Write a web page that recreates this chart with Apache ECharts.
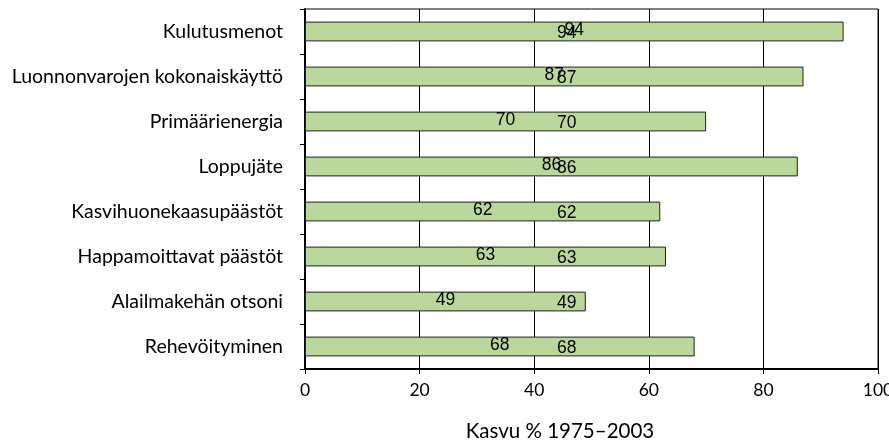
<!DOCTYPE html>
<html>
<head>
<meta charset="utf-8">
<script src="https://cdn.jsdelivr.net/npm/echarts@6/dist/echarts.min.js"></script>
<style>
  html, body { margin: 0; padding: 0; background: #fff; }
  #chart { width: 889px; height: 441px; }
</style>
</head>
<body>
<div id="chart"></div>
<script>
// luokat ylhäältä alas
const categories = [
  'Kulutusmenot',
  'Luonnonvarojen kokonaiskäyttö',
  'Primäärienergia',
  'Loppujäte',
  'Kasvihuonekaasupäästöt',
  'Happamoittavat päästöt',
  'Alailmakehän otsoni',
  'Rehevöityminen'
];
const growth = [94, 87, 70, 86, 62, 63, 49, 68];
const xTicks = [0, 20, 40, 60, 80, 100];
const axisTitle = 'Kasvu % 1975–2003';

const labelFont = '"Liberation Sans", Arial, sans-serif';
const textFont = 'Lato, "Noto Sans", sans-serif';

const chart = echarts.init(document.getElementById('chart'));
chart.setOption({
  animation: false,
  grid: {
    left: 305,
    right: 11,
    top: 9,
    bottom: 72,
    outerBoundsMode: 'none',
    show: true,
    borderColor: '#000',
    borderWidth: 1
  },
  xAxis: {
    type: 'value',
    min: xTicks[0],
    max: xTicks[xTicks.length - 1],
    interval: xTicks[1] - xTicks[0],
    axisLine: { show: true, lineStyle: { color: '#000', width: 2 } },
    axisTick: { show: true, length: 5, lineStyle: { color: '#000', width: 1 } },
    axisLabel: { color: '#000', fontSize: 17.5, fontFamily: textFont, margin: 12 },
    splitLine: { show: true, lineStyle: { color: '#000', width: 1 } },
    name: axisTitle,
    nameLocation: 'middle',
    nameGap: 52,
    nameTextStyle: { color: '#000', fontSize: 20.5, fontFamily: textFont, padding: [0, 63, 0, 0] }
  },
  yAxis: {
    type: 'category',
    data: categories,
    inverse: true,
    axisLine: { show: true, lineStyle: { color: '#000', width: 2 } },
    axisTick: { show: true, length: 5, lineStyle: { color: '#000' } },
    axisLabel: { color: '#000', fontSize: 19.5, fontFamily: textFont, margin: 22 },
    splitLine: { show: false }
  },
  series: [
    {
      type: 'bar',
      data: growth,
      barCategoryGap: '56%',
      itemStyle: { color: '#bad79c', borderColor: '#222', borderWidth: 1 },
      label: {
        show: true,
        position: 'inside',
        offset: [0, -1.5],
        color: '#000',
        fontSize: 17.5,
        fontFamily: labelFont
      },
      z: 2
    },
    {
      // toinen arvojen rivi, samassa kohdassa jokaisella palkilla
      type: 'bar',
      data: growth,
      barGap: '-100%',
      silent: true,
      itemStyle: { color: 'rgba(0,0,0,0)' },
      label: {
        show: true,
        position: 'insideLeft',
        offset: [247, 1.5],
        color: '#000',
        fontSize: 17.5,
        fontFamily: labelFont
      },
      z: 3
    }
  ]
});
</script>
</body>
</html>
